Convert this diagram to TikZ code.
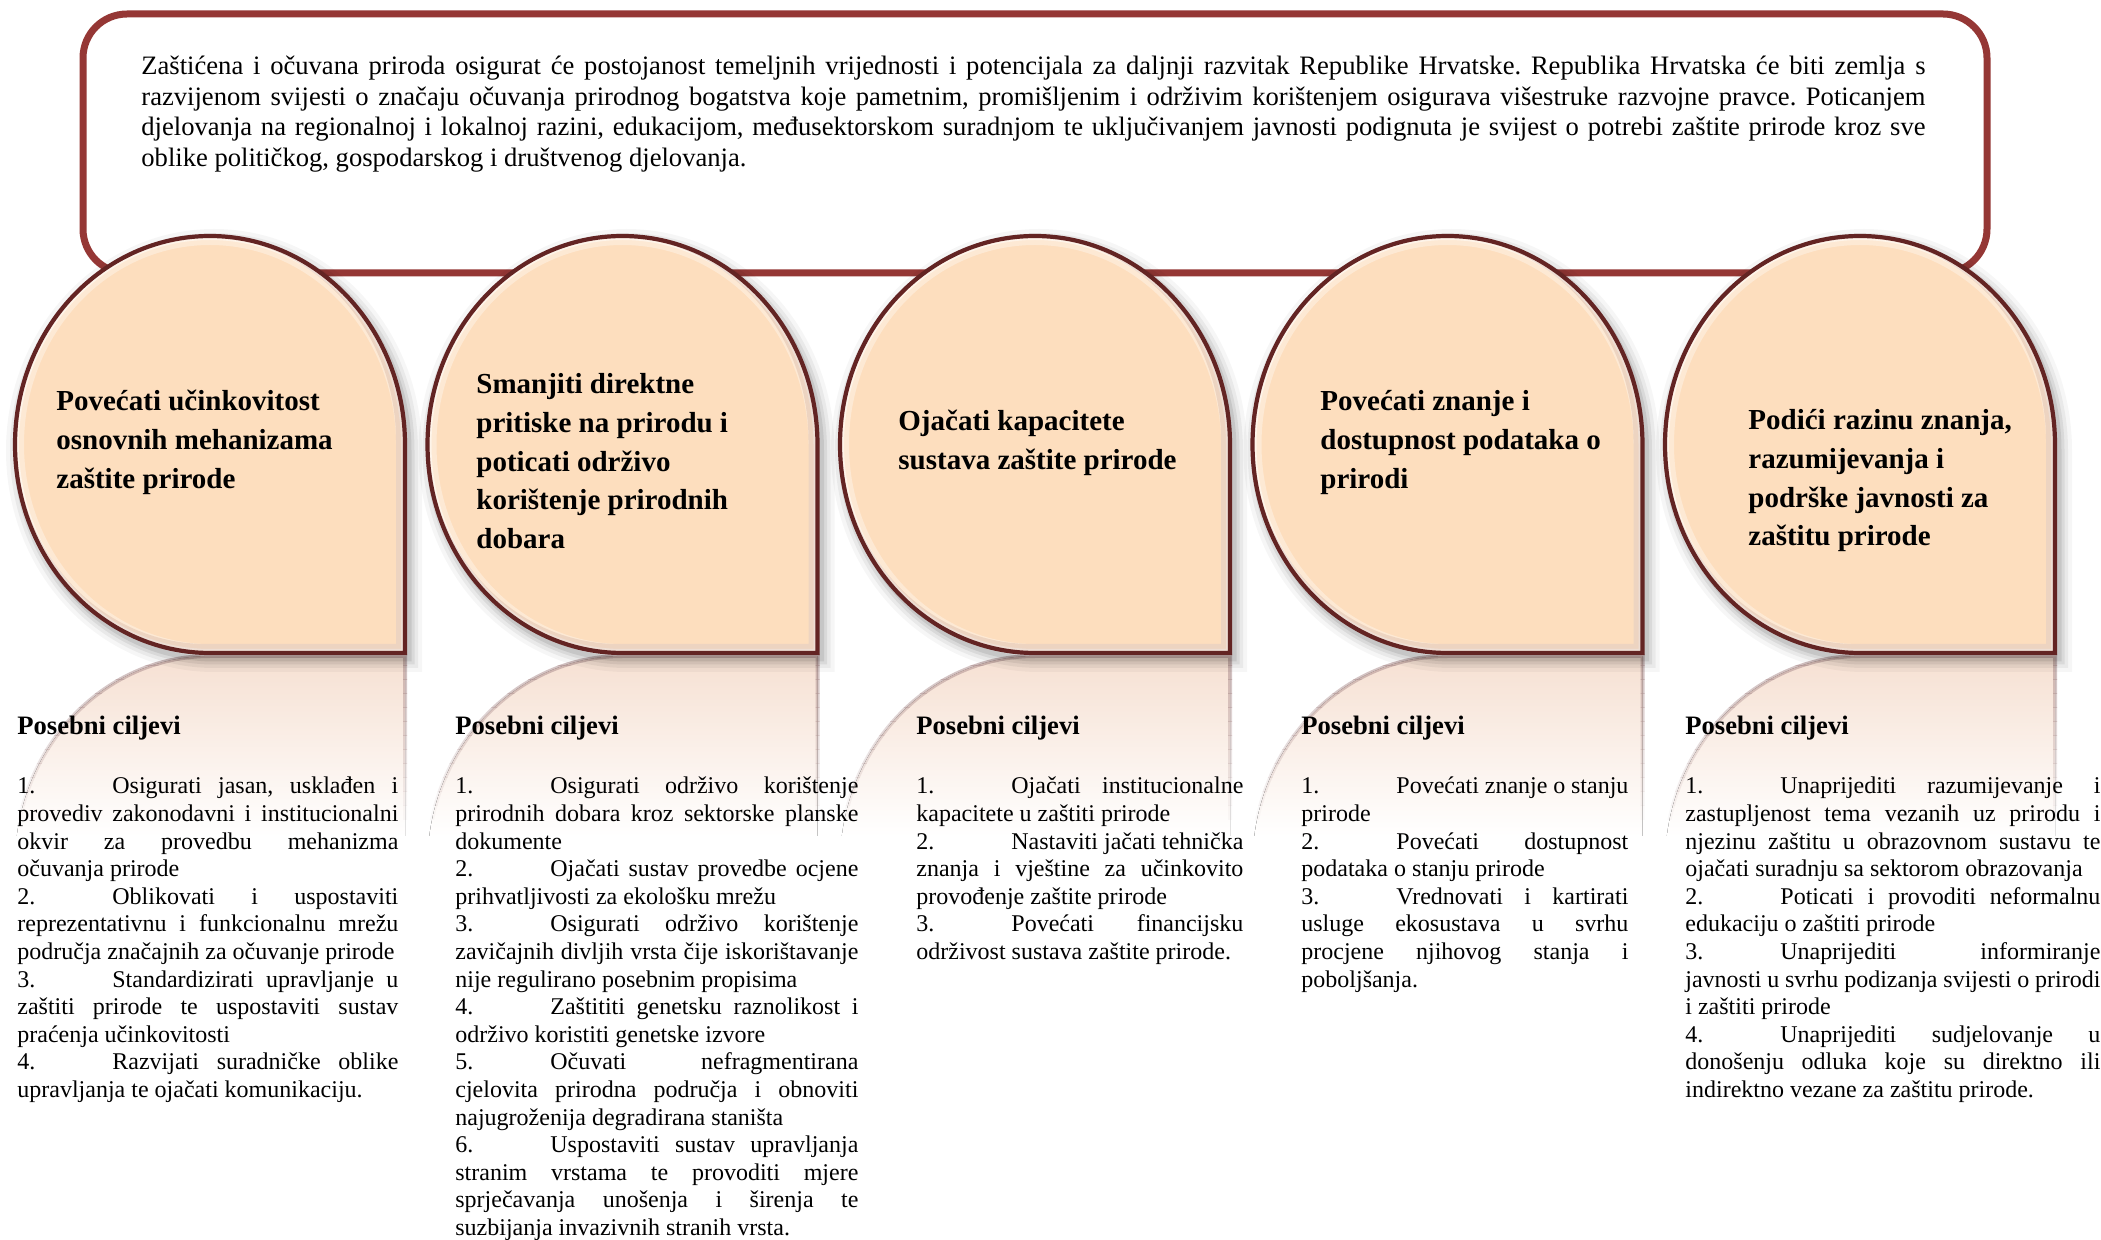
\documentclass[tikz,border=0pt]{standalone}
\usepackage{fontspec}
\setmainfont{Liberation Serif}
\frenchspacing
\definecolor{boxred}{RGB}{149,55,53}
\definecolor{tdline}{RGB}{99,36,35}
\definecolor{peach}{RGB}{253,222,190}
\definecolor{reflc}{RGB}{246,224,210}
\definecolor{refline}{RGB}{175,145,145}
\newcommand\tdshape{(390,208.5) .. controls (390,93.35) and (302.7,0) .. (195,0) .. controls (87.3,0) and (0,93.35) .. (0,208.5) .. controls (0,323.65) and (87.3,417) .. (195,417) -- (390,417) -- cycle}
\newcommand\tdrefl{(390,628.5) .. controls (390,743.65) and (302.7,837) .. (195,837) .. controls (87.3,837) and (0,743.65) .. (0,628.5) .. controls (0,513.35) and (87.3,420) .. (195,420) -- (390,420) -- cycle}
\newcommand\numln[2]{\hbox to\hsize{\hbox to 47.5pt{#1\hfil}#2}}
\newcommand\jusln[1]{\hbox to\hsize{#1}}
\newcommand\lastln[1]{\hbox{#1}}
\tikzset{
  tdtext/.style={anchor=base west, inner sep=0pt, font=\bfseries\fontsize{14.5}{19.3}\selectfont},
  headtext/.style={anchor=base west, inner sep=0pt, font=\bfseries\fontsize{13.3}{15}\selectfont},
  coltext/.style={anchor=base west, inner sep=0pt, font=\fontsize{12}{13.8}\selectfont},
}
\begin{document}
\begin{tikzpicture}[x=0.5pt,y=-0.5pt]
\useasboundingbox (0,0) rectangle (2101,1240);
\fill[white] (0,0) rectangle (2101,1240);
% vision box
\draw[boxred, line width=3.5pt, rounded corners=22pt] (83,14) rectangle (1987,273);
\node[anchor=base west, inner sep=0pt, font=\fontsize{13.3}{15.2}\selectfont] (vision) at (141,75) {\vtop{\hsize=892pt
\jusln{Zaštićena i očuvana priroda osigurat će postojanost temeljnih vrijednosti i potencijala za daljnji razvitak Republike Hrvatske. Republika Hrvatska će biti zemlja s}
\jusln{razvijenom svijesti o značaju očuvanja prirodnog bogatstva koje pametnim, promišljenim i održivim korištenjem osigurava višestruke razvojne pravce. Poticanjem}
\jusln{djelovanja na regionalnoj i lokalnoj razini, edukacijom, međusektorskom suradnjom te uključivanjem javnosti podignuta je svijest o potrebi zaštite prirode kroz sve}
\lastln{oblike političkog, gospodarskog i društvenog djelovanja.}}};
% teardrops
\foreach \L in {15,427.5,840,1252.5,1665}{
\begin{scope}[shift={(\L,236)}]
  % reflection
  \begin{scope}
    \clip \tdrefl;
    \fill[top color=reflc, bottom color=white] (-10,420) rectangle (400,600);
  \end{scope}
  \foreach \k in {0,...,11}{
    \pgfmathsetmacro\op{0.6*(1-\k/12)}
    \begin{scope}
      \clip (-30,{416+\k*14}) rectangle (430,{430+\k*14});
      \draw[refline, line width=2pt, opacity=\op] \tdrefl;
    \end{scope}
  }
  % shadow
  \foreach \w/\o in {13pt/0.035, 9pt/0.05, 5.5pt/0.065, 2.5pt/0.085}{
    \draw[black, opacity=\o, line width=\w, shift={(4,6)}] \tdshape;
  }
  \fill[peach] \tdshape;
  \begin{scope}
    \clip \tdshape;
    \draw[white, opacity=0.35, line width=9pt] \tdshape;
    \draw[white, opacity=0.5, line width=4pt] \tdshape;
    \draw[tdline, opacity=0.10, line width=5pt, shift={(-4,-4)}] \tdshape;
  \end{scope}
  \draw[tdline, line width=2.1pt] \tdshape;
\end{scope}
}
% teardrop titles
\node[tdtext] (t1) at (56,411) {\vtop{\hbox{Povećati učinkovitost}\hbox{osnovnih mehanizama}\hbox{zaštite prirode}}};
\node[tdtext] (t2) at (476,394) {\vtop{\hbox{Smanjiti direktne}\hbox{pritiske na prirodu i}\hbox{poticati održivo}\hbox{korištenje prirodnih}\hbox{dobara}}};
\node[tdtext] (t3) at (898,431) {\vtop{\hbox{Ojačati kapacitete}\hbox{sustava zaštite prirode}}};
\node[tdtext] (t4) at (1320,411) {\vtop{\hbox{Povećati znanje i}\hbox{dostupnost podataka o}\hbox{prirodi}}};
\node[tdtext] (t5) at (1748,430) {\vtop{\hbox{Podići razinu znanja,}\hbox{razumijevanja i}\hbox{podrške javnosti za}\hbox{zaštitu prirode}}};
% headings
\node[headtext] (h1) at (17,735) {Posebni ciljevi};
\node[headtext] (h2) at (455,735) {Posebni ciljevi};
\node[headtext] (h3) at (916,735) {Posebni ciljevi};
\node[headtext] (h4) at (1301,735) {Posebni ciljevi};
\node[headtext] (h5) at (1685,735) {Posebni ciljevi};
% columns
\node[coltext] (c1) at (17,794) {\vtop{\hsize=190.5pt
\numln{1.}{Osigurati jasan, usklađen i}
\jusln{provediv zakonodavni i institucionalni}
\jusln{okvir za provedbu mehanizma}
\lastln{očuvanja prirode}
\numln{2.}{Oblikovati i uspostaviti}
\jusln{reprezentativnu i funkcionalnu mrežu}
\lastln{područja značajnih za očuvanje prirode}
\numln{3.}{Standardizirati upravljanje u}
\jusln{zaštiti prirode te uspostaviti sustav}
\lastln{praćenja učinkovitosti}
\numln{4.}{Razvijati suradničke oblike}
\lastln{upravljanja te ojačati komunikaciju.}}};
\node[coltext] (c2) at (455,794) {\vtop{\hsize=201.5pt
\numln{1.}{Osigurati održivo korištenje}
\jusln{prirodnih dobara kroz sektorske planske}
\lastln{dokumente}
\numln{2.}{Ojačati sustav provedbe ocjene}
\lastln{prihvatljivosti za ekološku mrežu}
\numln{3.}{Osigurati održivo korištenje}
\jusln{zavičajnih divljih vrsta čije iskorištavanje}
\lastln{nije regulirano posebnim propisima}
\numln{4.}{Zaštititi genetsku raznolikost i}
\lastln{održivo koristiti genetske izvore}
\numln{5.}{Očuvati nefragmentirana}
\jusln{cjelovita prirodna područja i obnoviti}
\lastln{najugroženija degradirana staništa}
\numln{6.}{Uspostaviti sustav upravljanja}
\jusln{stranim vrstama te provoditi mjere}
\jusln{sprječavanja unošenja i širenja te}
\lastln{suzbijanja invazivnih stranih vrsta.}}};
\node[coltext] (c3) at (916,794) {\vtop{\hsize=163.5pt
\numln{1.}{Ojačati institucionalne}
\lastln{kapacitete u zaštiti prirode}
\numln{2.}{Nastaviti jačati tehnička}
\jusln{znanja i vještine za učinkovito}
\lastln{provođenje zaštite prirode}
\numln{3.}{Povećati financijsku}
\lastln{održivost sustava zaštite prirode.}}};
\node[coltext] (c4) at (1301,794) {\vtop{\hsize=163.5pt
\numln{1.}{Povećati znanje o stanju}
\lastln{prirode}
\numln{2.}{Povećati dostupnost}
\lastln{podataka o stanju prirode}
\numln{3.}{Vrednovati i kartirati}
\jusln{usluge ekosustava u svrhu}
\jusln{procjene njihovog stanja i}
\lastln{poboljšanja.}}};
\node[coltext] (c5) at (1685,794) {\vtop{\hsize=207.5pt
\numln{1.}{Unaprijediti razumijevanje i}
\jusln{zastupljenost tema vezanih uz prirodu i}
\jusln{njezinu zaštitu u obrazovnom sustavu te}
\lastln{ojačati suradnju sa sektorom obrazovanja}
\numln{2.}{Poticati i provoditi neformalnu}
\lastln{edukaciju o zaštiti prirode}
\numln{3.}{Unaprijediti informiranje}
\jusln{javnosti u svrhu podizanja svijesti o prirodi}
\lastln{i zaštiti prirode}
\numln{4.}{Unaprijediti sudjelovanje u}
\jusln{donošenju odluka koje su direktno ili}
\lastln{indirektno vezane za zaštitu prirode.}}};
\end{tikzpicture}
\end{document}
